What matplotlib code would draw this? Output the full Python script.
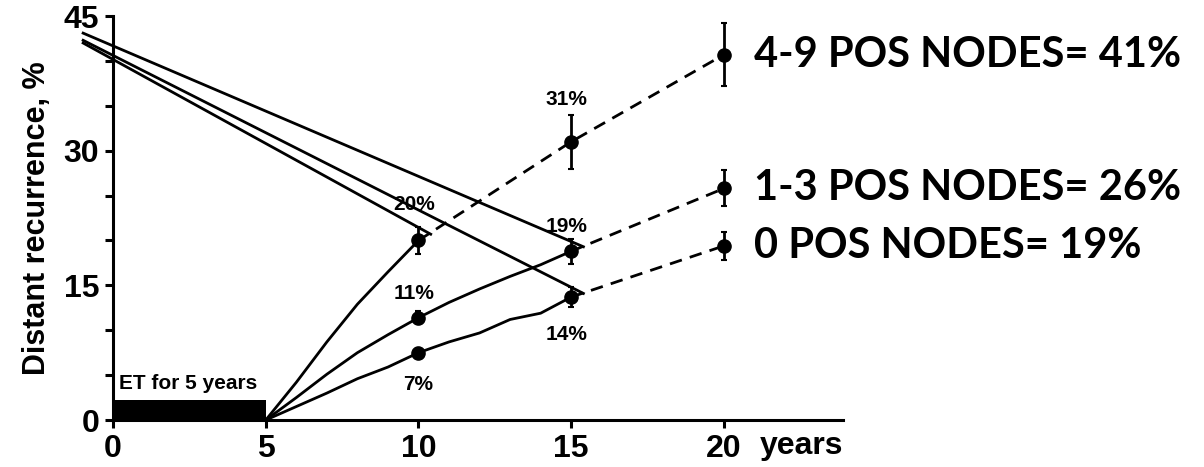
import matplotlib
matplotlib.use("Agg")
import matplotlib.pyplot as plt

plt.rcParams['font.family'] = ['Liberation Sans', 'DejaVu Sans']
plt.rcParams['font.weight'] = 'bold'

# ---- data ----
groups = ["4-9 POS NODES= 41%", "1-3 POS NODES= 26%", "0 POS NODES= 19%"]

# solid part (years 5-15)
solid_x_49 = [5, 6, 7, 8, 9, 10]
solid_y_49 = [0, 4.2, 8.7, 12.9, 16.5, 20.0]
solid_x_13 = [5, 6, 7, 8, 9, 10, 11, 12, 13, 14, 15]
solid_y_13 = [0, 2.5, 5.1, 7.5, 9.5, 11.4, 13.1, 14.6, 16.0, 17.3, 18.8]
solid_x_0 = [5, 6, 7, 8, 9, 10, 11, 12, 13, 14, 15]
solid_y_0 = [0, 1.5, 3.0, 4.6, 5.9, 7.5, 8.7, 9.7, 11.2, 11.9, 13.7]

# marked points with error bars
pts_x_49 = [10, 15, 20]
pts_y_49 = [20.0, 31.0, 40.7]
err_49 = [1.5, 3.0, 3.5]
pts_x_13 = [10, 15, 20]
pts_y_13 = [11.4, 18.8, 25.8]
err_13 = [0.7, 1.4, 2.0]
pts_x_0 = [10, 15, 20]
pts_y_0 = [7.5, 13.7, 19.4]
err_0 = [0.5, 1.1, 1.6]

# straight descending lines (start, end)
slope_x = [[-0.98, 15.4], [-0.98, 15.4], [-0.98, 10.4]]
slope_y = [[43.1, 19.3], [42.3, 14.1], [42.0, 20.7]]

# percent labels
pct_text = ["20%", "31%", "19%", "11%", "14%", "7%"]
pct_x = [9.85, 14.85, 14.85, 9.85, 14.85, 10.0]
pct_y = [24.0, 35.7, 21.6, 14.1, 9.5, 4.0]

et_years = 5
et_height = 2.2

fig = plt.figure(figsize=(12.04, 4.67), dpi=100)
ax = fig.add_axes([0.0939, 0.1006, 0.6063, 0.865])

lw = 2.0

# ET bar
ax.bar(0, et_height, width=et_years, align='edge', color='black', zorder=2)
ax.text(0.2, 3.0, "ET for 5 years", fontsize=15, fontweight='bold', va='bottom')

# descending lines
for xs, ys in zip(slope_x, slope_y):
    ax.plot(xs, ys, color='black', lw=lw, clip_on=False, zorder=3)

# solid curves
ax.plot(solid_x_49, solid_y_49, color='black', lw=lw, zorder=3)
ax.plot(solid_x_13, solid_y_13, color='black', lw=lw, zorder=3)
ax.plot(solid_x_0, solid_y_0, color='black', lw=lw, zorder=3)

# dashed continuations + points
dash = (0, (4.5, 3))
series = [(pts_x_49, pts_y_49, err_49, 0),
          (pts_x_13, pts_y_13, err_13, 1),
          (pts_x_0, pts_y_0, err_0, 1)]
for px, py, pe, start in series:
    ax.plot(px[start:], py[start:], color='black', lw=lw, ls=dash, zorder=3)
    ax.errorbar(px, py, yerr=pe, fmt='o', color='black', ms=9.5, elinewidth=2,
                capsize=2.5, capthick=1.5, zorder=4, clip_on=False)

# labels
for t, x, y in zip(pct_text, pct_x, pct_y):
    ax.text(x, y, t, fontsize=15, fontweight='bold', ha='center', va='center')

label_y = [pts_y_49[-1], pts_y_13[-1], pts_y_0[-1]]
for g, y in zip(groups, label_y):
    ax.text(21.0, y, g, fontsize=30, fontweight='bold', family='Lato',
            ha='left', va='center', clip_on=False)

# axes styling
ax.set_xlim(0, 23.9)
ax.set_ylim(0, 45)
ax.spines['top'].set_visible(False)
ax.spines['right'].set_visible(False)
ax.spines['left'].set_linewidth(2.2)
ax.spines['bottom'].set_linewidth(2.2)
ax.set_xticks([0, 5, 10, 15, 20])
ax.set_yticks([0, 15, 30, 45])
ax.set_yticks([5, 10, 20, 25, 35, 40], minor=True)
ax.tick_params(axis='both', which='both', direction='out', length=6, width=2.2,
               labelsize=23, pad=4)
for lab in ax.get_xticklabels() + ax.get_yticklabels():
    lab.set_fontweight('bold')

ax.text(1.0, -0.028, "years", transform=ax.transAxes, ha='right', va='top',
        fontsize=23, fontweight='bold')
ax.set_ylabel("Distant recurrence, %", fontsize=22, fontweight='bold', labelpad=8)

fig.savefig("out.png", dpi=100)
